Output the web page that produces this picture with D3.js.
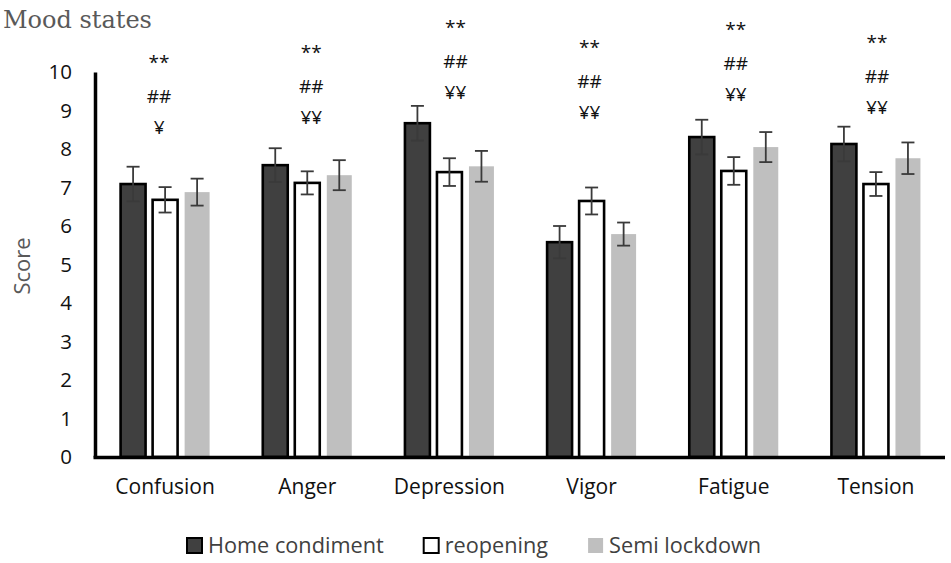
<!doctype html>
<html>

<head>
	<meta charset="utf-8">
	<style>
		body { margin: 0; background: #fff; }
	</style>
</head>

<body>
	<div class="figure"></div>

	<script src="https://d3js.org/d3.v7.min.js"></script>
	<script>
		// данные графика
		const categories = ["Confusion", "Anger", "Depression", "Vigor", "Fatigue", "Tension"];
		const series = ["Home condiment", "reopening", "Semi lockdown"];
		const homeValues = [7.09, 7.58, 8.67, 5.58, 8.31, 8.13];
		const homeErrors = [0.45, 0.44, 0.45, 0.42, 0.45, 0.45];
		const reopenValues = [6.68, 7.12, 7.40, 6.65, 7.43, 7.09];
		const reopenErrors = [0.33, 0.30, 0.36, 0.35, 0.36, 0.31];
		const semiValues = [6.88, 7.32, 7.55, 5.79, 8.05, 7.76];
		const semiErrors = [0.35, 0.39, 0.40, 0.30, 0.39, 0.41];
		const yTicks = [0, 1, 2, 3, 4, 5, 6, 7, 8, 9, 10];
		// значимость: строки и уровень верхней строки (в единицах шкалы)
		const marks = [["**", "##", "¥"], ["**", "##", "¥¥"], ["**", "##", "¥¥"], ["**", "##", "¥¥"], ["**", "##", "¥¥"], ["**", "##", "¥¥"]];
		const markLevel = [10.36, 10.62, 11.27, 10.75, 11.22, 10.88];

		const W = 951, H = 563;
		let svg = d3.select(".figure")
			.append("svg")
			.attr("width", W)
			.attr("height", H)
			.style("font-family", "'Open Sans', sans-serif");

		let x0 = d3.scaleBand().domain(categories).range([94, 947]).padding(0);
		let x1 = d3.scaleBand().domain(series).range([26.6, 115.6]).paddingInner(0.22).paddingOuter(0);
		let y = d3.scaleLinear().domain([0, 10]).range([457, 72]);

		let fills = { "Home condiment": "#404040", "reopening": "#ffffff", "Semi lockdown": "#bfbfbf" };
		let strokes = { "Home condiment": "#000", "reopening": "#000", "Semi lockdown": "none" };
		let vals = { "Home condiment": homeValues, "reopening": reopenValues, "Semi lockdown": semiValues };
		let errs = { "Home condiment": homeErrors, "reopening": reopenErrors, "Semi lockdown": semiErrors };

		// заголовок
		svg.append("text")
			.attr("x", 3).attr("y", 28)
			.style("font-family", "'DejaVu Serif', serif")
			.style("font-size", "24px")
			.attr("fill", "#595959")
			.text("Mood states");

		// подпись оси Y
		svg.append("text")
			.attr("transform", "translate(30,266) rotate(-90)")
			.attr("text-anchor", "middle")
			.style("font-size", "22px")
			.attr("fill", "#595959")
			.text("Score");

		// столбцы
		let flat = [];
		categories.forEach((c, i) => {
			series.forEach(s => flat.push({ c: c, s: s, v: vals[s][i], e: errs[s][i] }));
		});

		let g = svg.append("g");
		g.selectAll("rect.bar")
			.data(flat)
			.join("rect")
			.attr("class", "bar")
			.attr("x", d => x0(d.c) + x1(d.s))
			.attr("y", d => y(d.v))
			.attr("width", x1.bandwidth())
			.attr("height", d => y(0) - y(d.v))
			.attr("fill", d => fills[d.s])
			.attr("stroke", d => strokes[d.s])
			.attr("stroke-width", 2.6);

		// планки погрешностей
		let eb = g.selectAll("g.err").data(flat).join("g").attr("class", "err")
			.attr("stroke", "#3a3a3a").attr("stroke-width", 1.8);
		eb.append("line")
			.attr("x1", d => x0(d.c) + x1(d.s) + x1.bandwidth() / 2)
			.attr("x2", d => x0(d.c) + x1(d.s) + x1.bandwidth() / 2)
			.attr("y1", d => y(d.v - d.e))
			.attr("y2", d => y(d.v + d.e));
		[-1, 1].forEach(k => {
			eb.append("line")
				.attr("x1", d => x0(d.c) + x1(d.s) + x1.bandwidth() / 2 - 6.5)
				.attr("x2", d => x0(d.c) + x1(d.s) + x1.bandwidth() / 2 + 6.5)
				.attr("y1", d => y(d.v + k * d.e))
				.attr("y2", d => y(d.v + k * d.e));
		});

		// оси
		let yAxis = svg.append("g")
			.attr("transform", "translate(95,0)")
			.call(d3.axisLeft(y).tickValues(yTicks).tickSize(0).tickPadding(23));
		yAxis.select(".domain").attr("stroke", "#000").attr("stroke-width", 3.5);
		yAxis.selectAll("text").style("font-size", "20.5px").style("font-family", "'Open Sans', sans-serif").attr("fill", "#111");

		let xAxis = svg.append("g")
			.attr("transform", "translate(0,457.5)")
			.call(d3.axisBottom(x0).tickSize(0).tickPadding(22));
		xAxis.select(".domain").attr("d", "M93.5,0H945").attr("stroke", "#000").attr("stroke-width", 3.5);
		xAxis.selectAll("text").style("font-size", "21px").style("font-family", "'Open Sans', sans-serif").attr("fill", "#111");

		// звёздочки значимости (сдвиги подобраны по рисунку)
		let nudge = [-6, 4, 6, -2, 2, 1];
		let lineOff = [11, 45, 76];
		categories.forEach((c, i) => {
			let t = svg.append("text")
				.attr("text-anchor", "middle")
				.style("font-size", "19px")
				.attr("fill", "#111");
			marks[i].forEach((m, j) => {
				t.append("tspan")
					.attr("x", x0(c) + x0.bandwidth() / 2 + nudge[i])
					.attr("y", y(markLevel[i]) + lineOff[j])
					.text(m);
			});
		});

		// легенда
		let lx = 187;
		series.forEach(s => {
			svg.append("rect")
				.attr("x", lx).attr("y", 538)
				.attr("width", 15).attr("height", 15)
				.attr("fill", fills[s])
				.attr("stroke", strokes[s])
				.attr("stroke-width", 2);
			let t = svg.append("text")
				.attr("x", lx + 21).attr("y", 553)
				.style("font-size", "21.7px")
				.attr("fill", "#404040")
				.text(s);
			lx += 21 + t.node().getComputedTextLength() + 40;
		});
	</script>

</body>

</html>
